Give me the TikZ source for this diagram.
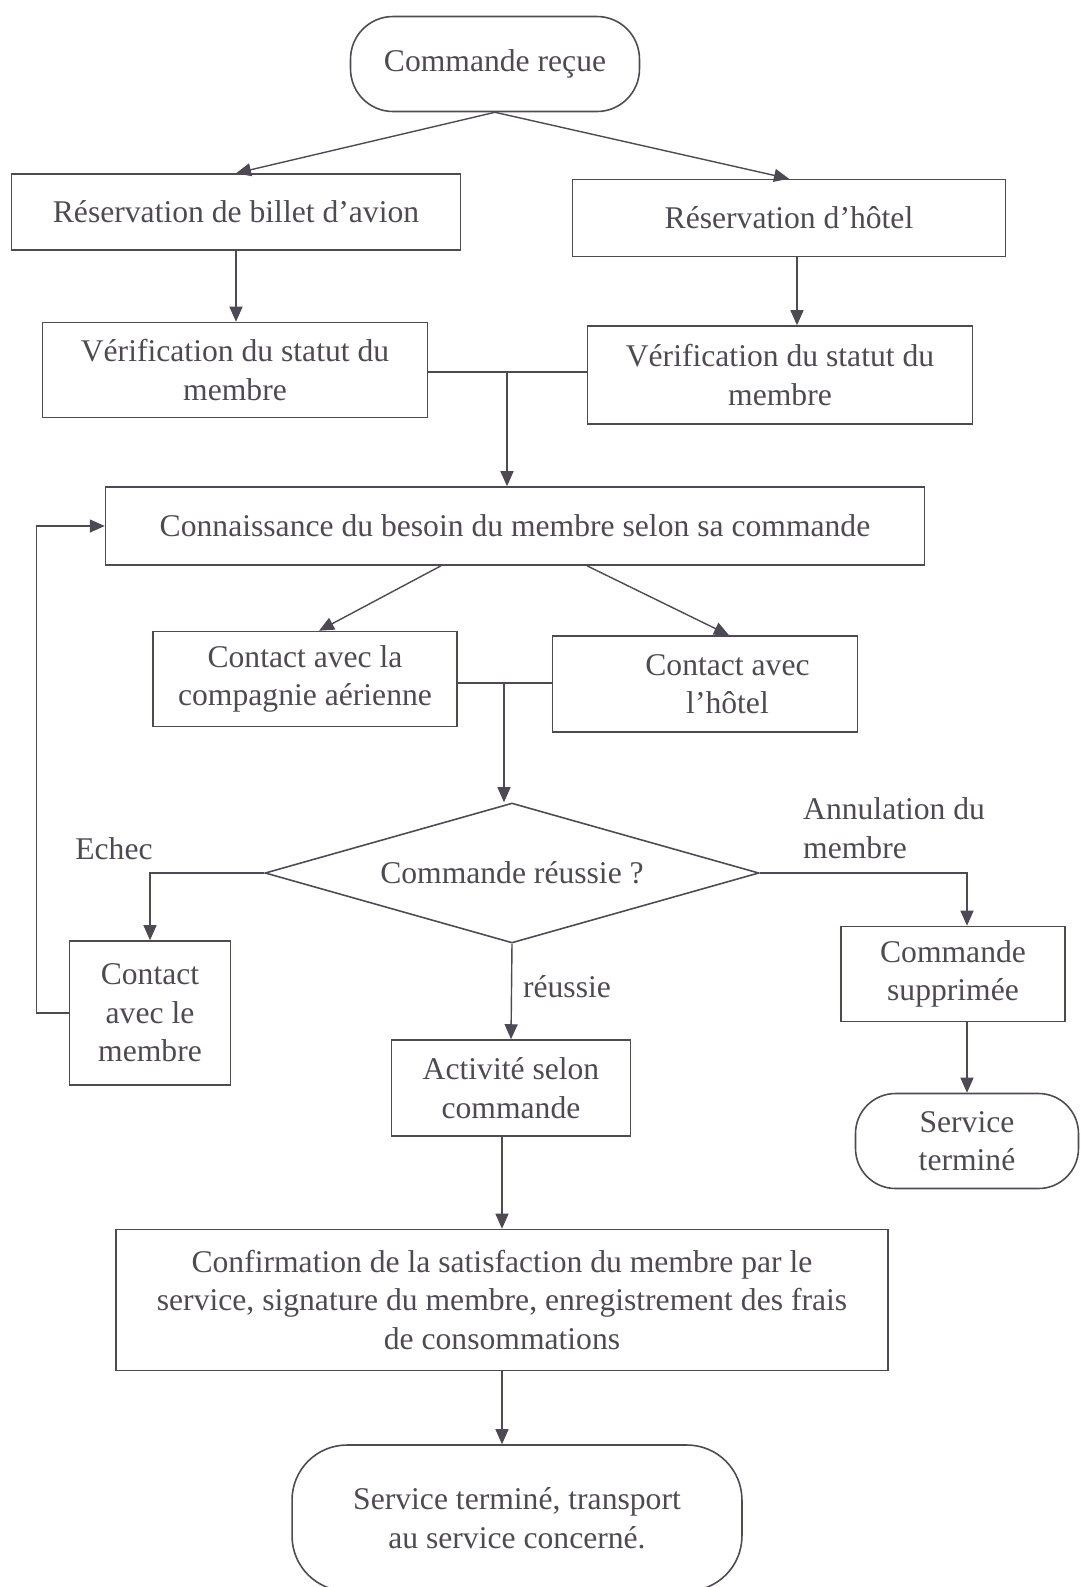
\documentclass[tikz,border=0pt]{standalone}
\usepackage{fontspec}
\setmainfont{Liberation Serif}
\usepackage{tikz}
\usetikzlibrary{arrows.meta,shapes.geometric}
\definecolor{ink}{RGB}{78,74,84}
\tikzstyle{box} = [rectangle, draw=ink, line width=0.9pt, align=center, inner sep=2pt, text=ink]
\tikzstyle{term} = [box, rounded corners=0.85cm]
\tikzstyle{choice} = [diamond, draw=ink, line width=0.9pt, aspect=3.5, inner sep=0pt, text=ink]
\tikzstyle{flow} = [draw=ink, line width=0.8pt, -{Triangle[length=0.3cm,width=0.26cm]}]
\tikzstyle{link} = [draw=ink, line width=0.8pt]
\tikzstyle{tag} = [text=ink, align=left]

\begin{document}
\begin{tikzpicture}[x=0.02cm, y=-0.02cm, font=\fontsize{18}{22}\selectfont]
    \useasboundingbox (0,0) rectangle (1081,1587);

    \node [term, minimum width=5.78cm, minimum height=1.9cm] (recue) at (495,64) {Commande reçue};
    \node [box, minimum width=8.98cm, minimum height=1.52cm] (avion) at (236,212) {Réservation de billet d’avion};
    \node [box, minimum width=8.66cm, minimum height=1.54cm] (hotel) at (789,218) {Réservation d’hôtel};
    \node [box, minimum width=7.7cm, minimum height=1.9cm] (verifA) at (235,370) {Vérification du statut du\\membre};
    \node [box, minimum width=7.7cm, minimum height=1.96cm] (verifH) at (780,375) {Vérification du statut du\\membre};
    \node [box, minimum width=16.38cm, minimum height=1.56cm] (besoin) at (515,526) {Connaissance du besoin du membre selon sa commande};
    \node [box, minimum width=6.08cm, minimum height=1.9cm] (contactA) at (305,679) {Contact avec la\\compagnie aérienne};
    \node [box, minimum width=6.1cm, minimum height=1.92cm] (contactH) at (705,684) {\hspace*{0.9cm}Contact avec\\\hspace*{0.9cm}l’hôtel};
    \node [choice, minimum width=9.88cm, minimum height=2.8cm] (reussie) at (512,873) {Commande réussie ?};
    \node [box, minimum width=3.22cm, minimum height=2.88cm] (contactM) at (150,1013) {Contact\\avec le\\membre};
    \node [box, minimum width=4.48cm, minimum height=1.9cm] (supprimee) at (953,974) {Commande\\supprimée};
    \node [term, rounded corners=0.8cm, minimum width=4.46cm, minimum height=1.9cm] (termine) at (967,1141) {Service\\terminé};
    \node [box, minimum width=4.78cm, minimum height=1.92cm] (activite) at (511,1088) {Activité selon\\commande};
    \node [box, minimum width=15.44cm, minimum height=2.82cm] (confirm) at (502,1300) {Confirmation de la satisfaction du membre par le\\service, signature du membre, enregistrement des frais\\de consommations};
    \node [term, rounded corners=1.1cm, minimum width=9cm, minimum height=2.92cm] (fin) at (517,1518) {Service terminé, transport\\au service concerné.};

    % branch labels
    \node [tag] (echec) at (114,849) {Echec};
    \node [tag, anchor=west] (annul) at (797,828) {Annulation du\\membre};
    \node [tag] (ok) at (567,987) {réussie};

    % reception -> reservations
    \draw [flow] (recue.south) to (avion.north);
    \draw [flow] (recue.south) to (hotel.north);
    \draw [flow] (avion.south) to (avion.south |- verifA.north);
    \draw [flow] ([xshift=0.16cm]hotel.south) to ([xshift=0.16cm]hotel.south |- verifH.north);
    % verifications -> besoin
    \coordinate (j1) at (507,372);
    \draw [link] (verifA.east |- j1) -- (verifH.west |- j1);
    \draw [flow] (j1) -- (j1 |- besoin.north);
    % besoin -> contacts
    \draw [flow] ([xshift=-1.48cm]besoin.south) to ([xshift=0.28cm]contactA.north);
    \draw [flow] ([xshift=1.44cm]besoin.south) to ([xshift=0.48cm]contactH.north);
    \coordinate (j2) at (504,683);
    \draw [link] (contactA.east |- j2) -- (contactH.west |- j2);
    \draw [flow] (j2) -- (j2 |- reussie.north);
    % test branches
    \draw [flow] (reussie.west) -| (contactM.north);
    \draw [flow] (contactM.west) -- ++(-0.64cm,0) |- (besoin.west);
    \draw [flow] (reussie.east) -| (termine.north |- supprimee.north);
    \draw [flow] (termine.north |- supprimee.south) -- (termine.north);
    \draw [flow] (reussie.south) -- (activite.north);
    % end of service
    \draw [flow] (confirm.north |- activite.south) -- (confirm.north);
    \draw [flow] (confirm.south) -- (confirm.south |- fin.north);
\end{tikzpicture}
\end{document}
